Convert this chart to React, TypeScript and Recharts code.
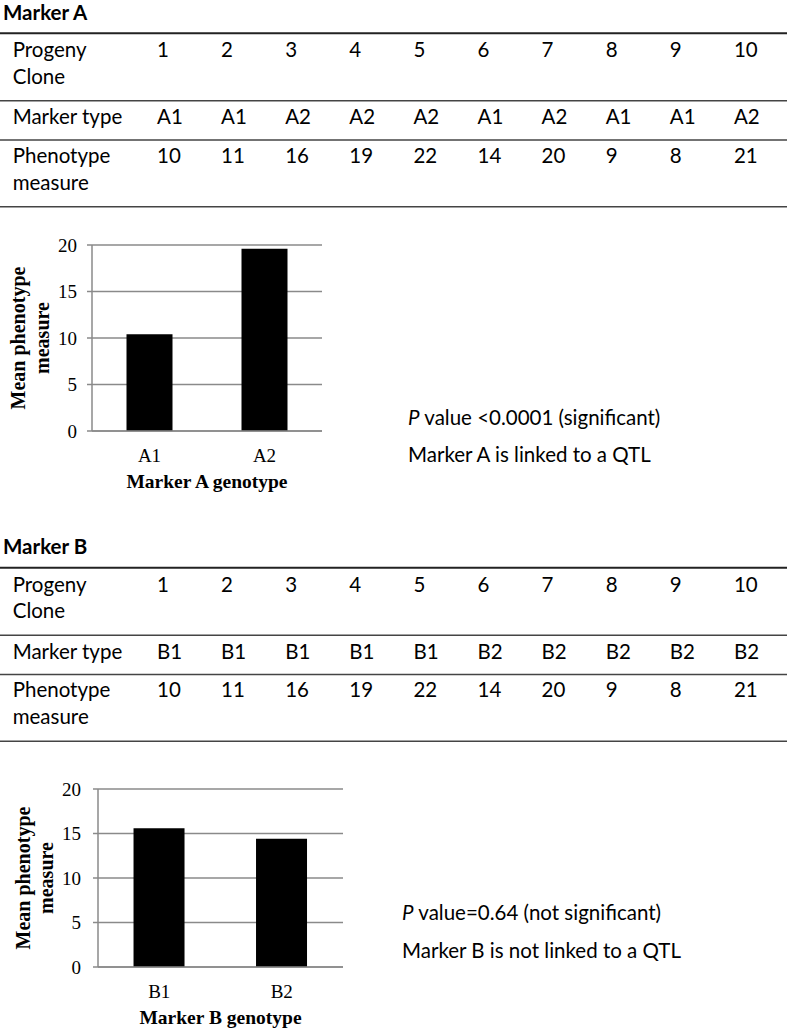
import React from 'react';
import { BarChart, Bar, XAxis, YAxis, CartesianGrid } from 'recharts';

// ---------- data ----------
const cloneLabels = ['1', '2', '3', '4', '5', '6', '7', '8', '9', '10'];
const markerATypes = ['A1', 'A1', 'A2', 'A2', 'A2', 'A1', 'A2', 'A1', 'A1', 'A2'];
const markerBTypes = ['B1', 'B1', 'B1', 'B1', 'B1', 'B2', 'B2', 'B2', 'B2', 'B2'];
const phenotypeValues = ['10', '11', '16', '19', '22', '14', '20', '9', '8', '21'];

const genotypesA = ['A1', 'A2'];
const meansA = [10.4, 19.6];
const genotypesB = ['B1', 'B2'];
const meansB = [15.6, 14.4];
const yTicks = [0, 5, 10, 15, 20];
const edgeTicks = [0, 1, 2];

const sectionTitles = ['Marker A', 'Marker B'];
const rowHeaders = [['Progeny', 'Clone'], ['Marker type'], ['Phenotype', 'measure']];
const yTitleLines = ['Mean phenotype', 'measure'];
const xTitles = ['Marker A genotype', 'Marker B genotype'];
const pValueTexts = [' value <0.0001 (significant)', ' value=0.64 (not significant)'];
const conclusionTexts = ['Marker A is linked to a QTL', 'Marker B is not linked to a QTL'];

// ---------- styles ----------
const SANS = 'Lato, "Noto Sans", sans-serif';
const SERIF = '"Liberation Serif", "DejaVu Serif", serif';
const GRID = '#8a8a8a';
const SANS_SIZE = 20.5;

const dataA = genotypesA.map((g, i) => ({ genotype: g, mean: meansA[i] }));
const dataB = genotypesB.map((g, i) => ({ genotype: g, mean: meansB[i] }));

function Table({ dy, types, titleIdx }: { dy: number; types: string[]; titleIdx: number }) {
  const colX = (i: number) => 157 + 64.1 * i;
  const lines = [33.3, 100.7, 140, 206.7];
  const text = (x: number, y: number, s: string, key: string) => (
    <text key={key} x={x} y={y + dy} fontFamily={SANS} fontSize={SANS_SIZE} fill="#000">
      {s}
    </text>
  );
  return (
    <g>
      <text x={3} y={19.5 + dy} fontFamily={SANS} fontWeight={700} fontSize={SANS_SIZE} fill="#000">
        {sectionTitles[titleIdx]}
      </text>
      {lines.map((ly, i) => (
        <line key={'l' + i} x1={0} x2={787} y1={ly + dy} y2={ly + dy} stroke={i === 0 ? '#222' : '#444'} strokeWidth={i === 0 ? 2 : 1.6} />
      ))}
      {text(12.7, 57.3, rowHeaders[0][0], 'h0a')}
      {text(12.7, 83.5, rowHeaders[0][1], 'h0b')}
      {text(12.7, 124, rowHeaders[1][0], 'h1')}
      {text(12.7, 162.7, rowHeaders[2][0], 'h2a')}
      {text(12.7, 189.5, rowHeaders[2][1], 'h2b')}
      {cloneLabels.map((c, i) => text(colX(i), 57.3, c, 'c' + i))}
      {types.map((t, i) => text(colX(i), 124, t, 't' + i))}
      {phenotypeValues.map((p, i) => text(colX(i), 162.7, p, 'p' + i))}
    </g>
  );
}

function makeYTitle(x1: number, gap: number) {
  return (props: any) => {
    const vb = props.viewBox || { x: 0, y: 0, width: 0, height: 0 };
    const cy = vb.y + vb.height / 2;
    return (
      <text
        transform={`translate(${vb.x + x1}, ${cy}) rotate(-90)`}
        textAnchor="middle"
        fontFamily={SERIF}
        fontWeight={700}
        fontSize={20}
        fill="#000"
      >
        <tspan x={0} y={0}>{yTitleLines[0]}</tspan>
        <tspan x={0} y={gap}>{yTitleLines[1]}</tspan>
      </text>
    );
  };
}

function makeXTitle(text: string, dyBase: number) {
  return (props: any) => {
    const vb = props.viewBox || { x: 0, y: 0, width: 0, height: 0 };
    return (
      <text x={vb.x + vb.width / 2} y={vb.y + dyBase} textAnchor="middle" fontFamily={SERIF} fontWeight={700} fontSize={19.5} fill="#000">
        {text}
      </text>
    );
  };
}

function GenotypeChart(props: {
  data: { genotype: string; mean: number }[];
  width: number;
  height: number;
  yAxisWidth: number;
  marginTop: number;
  marginRight: number;
  xAxisHeight: number;
  tickMarginY: number;
  yTitleX: number;
  yTitleGap: number;
  xTitle: string;
  gap: string;
}) {
  const p = props;
  return (
    <BarChart
      width={p.width}
      height={p.height}
      data={p.data}
      margin={{ top: p.marginTop, right: p.marginRight, bottom: 0, left: 0 }}
      barCategoryGap={p.gap}
    >
      <CartesianGrid vertical={false} stroke={GRID} strokeWidth={1.5} xAxisId="cat" />
      <XAxis
        xAxisId="edges"
        type="number"
        domain={[0, 2]}
        ticks={edgeTicks}
        allowDataOverflow
        height={0}
        axisLine={false}
        tick={false}
        tickSize={5}
        tickLine={{ stroke: GRID, strokeWidth: 1.5 }}
      />
      <XAxis
        xAxisId="cat"
        dataKey="genotype"
        height={p.xAxisHeight}
        axisLine={{ stroke: GRID, strokeWidth: 1.5 }}
        tickLine={false}
        tickSize={0}
        tickMargin={18}
        tick={{ fontFamily: SERIF, fontSize: 19, fill: '#000' }}
        label={{ content: makeXTitle(p.xTitle, 57) }}
      />
      <YAxis
        domain={[0, 20]}
        ticks={yTicks}
        width={p.yAxisWidth}
        axisLine={{ stroke: GRID, strokeWidth: 1.5 }}
        tickLine={{ stroke: GRID, strokeWidth: 1.5 }}
        tickSize={5}
        tickMargin={p.tickMarginY}
        tick={{ fontFamily: SERIF, fontSize: 19, fill: '#000' }}
        label={{ content: makeYTitle(p.yTitleX, p.yTitleGap) }}
      />
      <Bar dataKey="mean" xAxisId="cat" fill="#000" isAnimationActive={false} />
    </BarChart>
  );
}

export default function App() {
  return (
    <div style={{ position: 'absolute', left: 0, top: 0, width: 787, height: 1029, background: '#fff', overflow: 'hidden' }}>
      <svg width={787} height={1029} style={{ position: 'absolute', left: 0, top: 0 }}>
        <Table dy={0} types={markerATypes} titleIdx={0} />
        <Table dy={534.5} types={markerBTypes} titleIdx={1} />
        <text x={408} y={424.5} fontFamily={SANS} fontSize={SANS_SIZE} fill="#000">
          <tspan fontStyle="italic">P</tspan>
          {pValueTexts[0]}
        </text>
        <text x={408} y={462} fontFamily={SANS} fontSize={SANS_SIZE} fill="#000">
          {conclusionTexts[0]}
        </text>
        <text x={402} y={920} fontFamily={SANS} fontSize={SANS_SIZE} fill="#000">
          <tspan fontStyle="italic">P</tspan>
          {pValueTexts[1]}
        </text>
        <text x={402} y={958.3} fontFamily={SANS} fontSize={SANS_SIZE} fill="#000">
          {conclusionTexts[1]}
        </text>
      </svg>
      <div style={{ position: 'absolute', left: 0, top: 225 }}>
        <GenotypeChart
          data={dataA}
          width={360}
          height={280}
          yAxisWidth={92}
          marginTop={20}
          marginRight={38}
          xAxisHeight={74}
          tickMarginY={10}
          yTitleX={24.7}
          yTitleGap={24}
          xTitle={xTitles[0]}
          gap="30%"
        />
      </div>
      <div style={{ position: 'absolute', left: 0, top: 770 }}>
        <GenotypeChart
          data={dataB}
          width={380}
          height={259}
          yAxisWidth={98}
          marginTop={19}
          marginRight={37}
          xAxisHeight={62}
          tickMarginY={12}
          yTitleX={29.5}
          yTitleGap={23}
          xTitle={xTitles[1]}
          gap="29%"
        />
      </div>
    </div>
  );
}
